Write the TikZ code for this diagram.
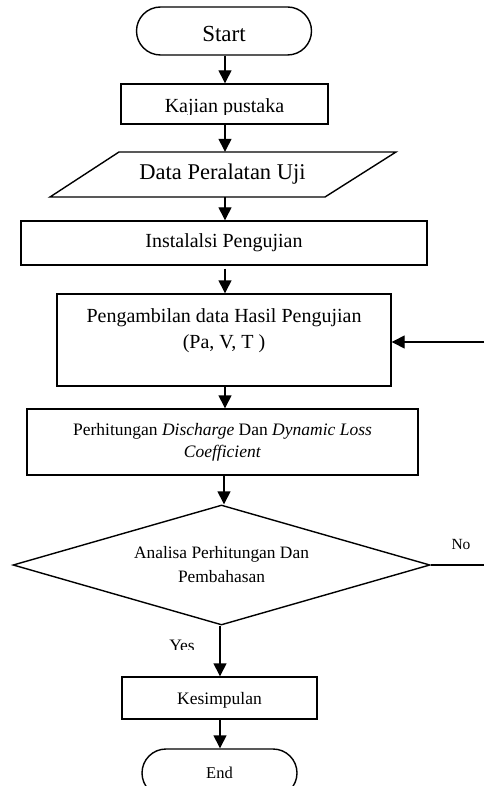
\documentclass[tikz,border=0pt]{standalone}
\usepackage{fontspec}
\setmainfont{Liberation Serif}
\usetikzlibrary{shapes.geometric,shapes.misc,arrows.meta}

\tikzset{
  box/.style={draw, line width=1.4pt, rectangle, inner sep=0pt},
  term/.style={draw, line width=1.4pt, rounded rectangle, inner sep=0pt},
  decision/.style={draw, line width=1.4pt, diamond, aspect=3.5, inner sep=0pt, align=center},
  arr/.style={line width=1.4pt, -{Triangle[length=13pt,width=13pt]}},
  plain/.style={line width=1.4pt},
  txt/.style={inner sep=0pt},
}

\begin{document}
\begin{tikzpicture}[x=1pt,y=-1pt]
\useasboundingbox (0,0) rectangle (484,786);
\clip (0,0) rectangle (484,786);
\fill[white] (0,0) rectangle (484,786);

% column guides for the vertical connectors
\coordinate (col) at (225,0);
\coordinate (colm) at (224,0);
\coordinate (colb) at (220,0);

% terminals and process steps
\node[term, minimum width=175pt, minimum height=48pt, text height=22pt, text depth=0pt, font=\fontsize{23}{27}\selectfont] (start) at (224,31) {Start};

\node[box, minimum width=207pt, minimum height=40pt] (kajian) at (224.5,104) {};
\begin{scope}
  \clip (121,84) rectangle (328,115);
  \node[txt, anchor=base, font=\fontsize{20}{24}\selectfont] (kajianteks) at (224.5,112.5) {Kajian pustaka};
\end{scope}

% input/output parallelogram
\draw[plain] (119,152) -- (396,152) -- (325,197) -- (50,197) -- cycle;
\node[txt, minimum width=200pt, minimum height=45pt, font=\fontsize{22.5}{27}\selectfont] (data) at (222.5,174.5) {Data Peralatan Uji};

\node[box, minimum width=406pt, minimum height=44pt, font=\fontsize{20}{24}\selectfont] (instal) at (224,243) {Instalalsi Pengujian};

\node[box, minimum width=334pt, minimum height=92pt] (ambil) at (224,340) {};
\node[txt, align=center, font=\fontsize{20}{26}\selectfont] (ambilteks) at (224,331) {Pengambilan data Hasil Pengujian\\(Pa, V, T )};

\node[box, minimum width=391pt, minimum height=66pt, align=center, font=\fontsize{17.5}{21.6}\selectfont] (hitung) at (222.5,442) {Perhitungan \textit{Discharge} Dan \textit{Dynamic Loss}\\\textit{Coefficient}};

\node[decision, minimum width=417pt, minimum height=120pt, font=\fontsize{17.4}{24}\selectfont] (keputusan) at (221.5,565) {Analisa Perhitungan Dan\\Pembahasan};

\node[box, minimum width=195pt, minimum height=42pt, text depth=0pt, font=\fontsize{17.5}{21}\selectfont] (simpul) at (219.5,698) {Kesimpulan};

\node[term, minimum width=155pt, minimum height=48pt, font=\fontsize{16.5}{20}\selectfont] (end) at (219.5,773) {End};

% branch labels
\node[txt, anchor=base, font=\fontsize{15.5}{19}\selectfont] (no) at (461,549) {No};
\begin{scope}
  \clip (150,630) rectangle (215,649);
  \node[txt, anchor=base, font=\fontsize{17.5}{21}\selectfont] (yes) at (182,651) {Yes};
\end{scope}

% connectors
\draw[arr] (start.south -| col) -- (kajian.north -| col);
\draw[arr] (kajian.south -| col) -- (data.north -| col);
\draw[arr] (data.south -| col) -- (instal.north -| col);
\draw[arr, shorten <=3pt] (instal.south -| col) -- (ambil.north -| col);
\draw[arr] (ambil.south -| col) -- (hitung.north -| col);
\draw[arr] (hitung.south -| colm) -- (keputusan.north -| colm);
\draw[arr] (keputusan.south -| colb) -- (simpul.north -| colb);
\draw[arr] (simpul.south -| colb) -- (end.north -| colb);

% loop-back entry and the "No" exit
\coordinate (feedback) at (484,342);
\draw[arr] (feedback) -- (ambil.east |- feedback);
\coordinate (noexit) at (484,565);
\draw[plain] (keputusan.east) -- (noexit);
\end{tikzpicture}
\end{document}
